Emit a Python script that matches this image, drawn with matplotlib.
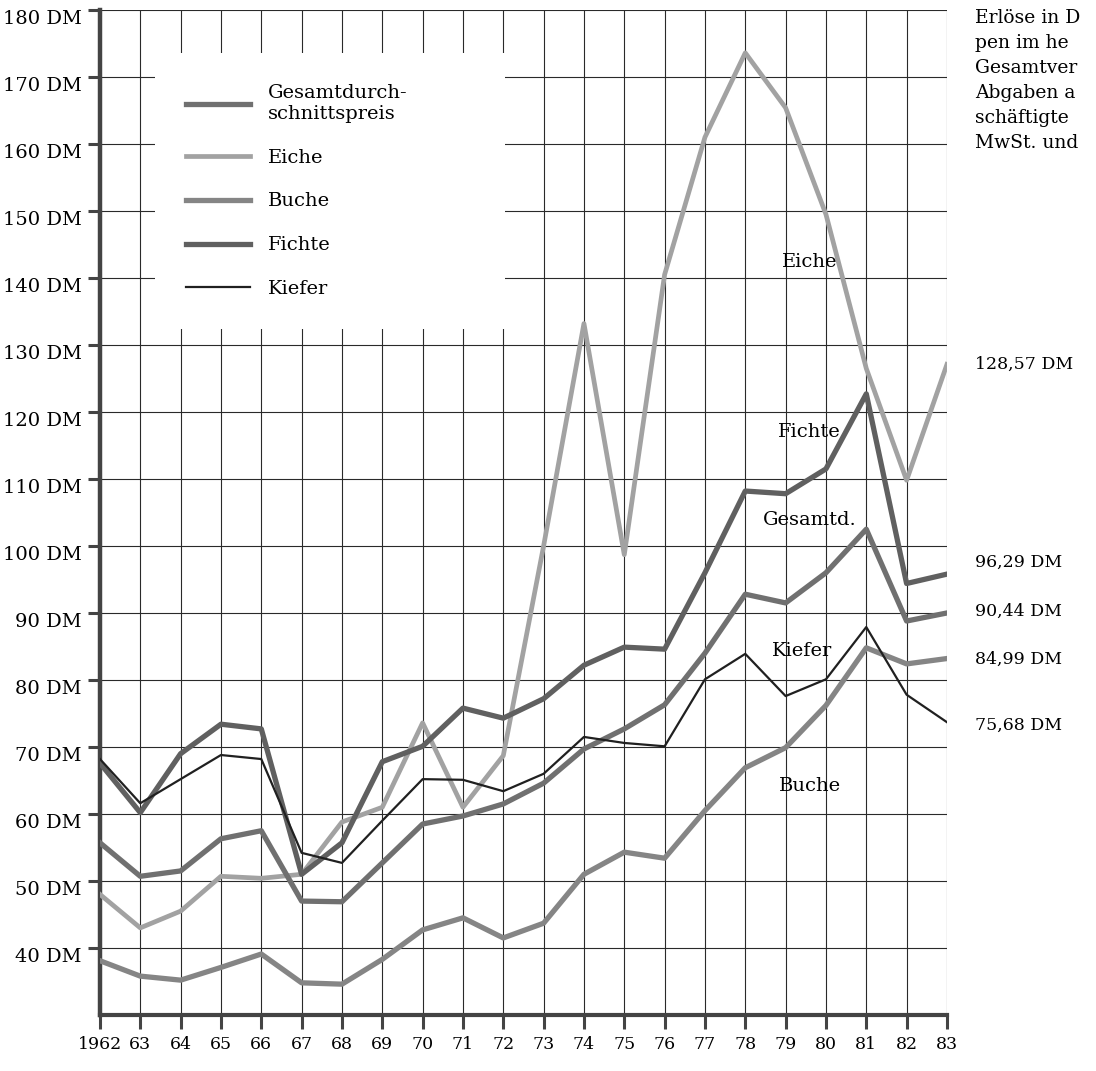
import matplotlib
matplotlib.use("Agg")
import matplotlib.pyplot as plt
import matplotlib.transforms as mtransforms

plt.rcParams["font.family"] = ["DejaVu Serif"]

years = list(range(1962, 1984))
year_labels = ["1962"] + [str(y)[2:] for y in years[1:]]
y_ticks = list(range(40, 190, 10))

gesamt = [55.7, 50.7, 51.5, 56.3, 57.5, 47.0, 46.9, 52.7, 58.5, 59.7, 61.5,
          64.6, 69.7, 72.7, 76.3, 84.0, 92.8, 91.5, 96.0, 102.5, 88.8, 90.0]
eiche = [48.0, 43.0, 45.5, 50.7, 50.4, 51.0, 58.8, 61.0, 73.6, 61.0, 68.7,
         100.0, 133.2, 98.7, 140.5, 161.0, 173.6, 165.4, 149.5, 126.5, 109.8, 127.1]
buche = [38.1, 35.8, 35.2, 37.1, 39.1, 34.8, 34.6, 38.3, 42.7, 44.5, 41.5,
         43.7, 51.0, 54.3, 53.4, 60.5, 66.9, 69.9, 76.2, 84.8, 82.4, 83.2]
fichte = [67.6, 60.2, 69.0, 73.4, 72.7, 51.0, 55.7, 67.8, 70.1, 75.8, 74.3,
          77.2, 82.2, 84.9, 84.6, 96.0, 108.2, 107.8, 111.5, 122.7, 94.4, 95.8]
kiefer = [68.2, 61.6, 65.2, 68.8, 68.2, 54.2, 52.7, 59.0, 65.2, 65.1, 63.4,
          66.0, 71.5, 70.6, 70.1, 80.1, 83.9, 77.6, 80.1, 87.9, 77.8, 73.7]

end_labels = ["128,57 DM", "96,29 DM", "90,44 DM", "84,99 DM", "75,68 DM"]
note_text = "Erlöse in D\npen im he\nGesamtver\nAbgaben a\nschäftigte\nMwSt. und"

fig = plt.figure(figsize=(10.96, 10.71), dpi=100)
ax = fig.add_axes([0.0912, 0.0523, 0.7728, 0.9384])

ax.set_xlim(1962, 1983)
ax.set_ylim(30, 180)

l_ges, = ax.plot(years, gesamt, color="#707070", lw=3.8, zorder=4)
l_eic, = ax.plot(years, eiche, color="#a2a2a2", lw=3.4, zorder=3)
l_buc, = ax.plot(years, buche, color="#858585", lw=3.8, zorder=4)
l_fic, = ax.plot(years, fichte, color="#606060", lw=3.8, zorder=4)
l_kie, = ax.plot(years, kiefer, color="#202020", lw=1.6, zorder=5)

ax.set_xticks(years)
ax.set_xticklabels(year_labels, fontsize=12.5)
ax.set_yticks(y_ticks)
ax.set_yticklabels([f"{v} DM" for v in y_ticks], fontsize=14)
ax.grid(True, color="#2a2a2a", lw=0.8, zorder=1)
ax.set_axisbelow(True)

ax.tick_params(axis="x", length=10, width=2.2, color="#444444", pad=5)
ax.tick_params(axis="y", length=9, width=2.2, color="#444444", pad=4)
# labels sit a little below their ticks in the original
shift = mtransforms.ScaledTranslation(0, -7 / 100, fig.dpi_scale_trans)
for lab in ax.get_yticklabels():
    lab.set_transform(lab.get_transform() + shift)

for s in ["top", "right"]:
    ax.spines[s].set_visible(False)
ax.spines["left"].set_linewidth(3.2)
ax.spines["left"].set_color("#444444")
ax.spines["bottom"].set_linewidth(3.0)
ax.spines["bottom"].set_color("#444444")

leg = ax.legend([l_ges, l_eic, l_buc, l_fic, l_kie],
                ["Gesamtdurch-\nschnittspreis", "Eiche", "Buche", "Fichte", "Kiefer"],
                loc="upper left", bbox_to_anchor=(1963.36, 132.2, 8.68, 41.4),
                bbox_transform=ax.transData, mode="expand",
                fontsize=14, frameon=True, fancybox=False, framealpha=1,
                borderpad=1.6, handlelength=3.3, handletextpad=0.9,
                labelspacing=1.33, borderaxespad=0)
leg.get_frame().set_facecolor("white")
leg.get_frame().set_edgecolor("none")
leg.set_zorder(6)

ax.text(1979.6, 142.4, "Eiche", ha="center", va="center", fontsize=14, zorder=7)
ax.text(1979.6, 117.0, "Fichte", ha="center", va="center", fontsize=14, zorder=7)
ax.text(1979.6, 103.9, "Gesamtd.", ha="center", va="center", fontsize=14, zorder=7)
ax.text(1979.4, 84.3, "Kiefer", ha="center", va="center", fontsize=14, zorder=7)
ax.text(1979.6, 64.2, "Buche", ha="center", va="center", fontsize=14, zorder=7)

ends = [eiche[-1], fichte[-1] + 1.7, gesamt[-1] + 0.3, buche[-1] - 0.1, kiefer[-1] - 0.4]
for lab, v in zip(end_labels, ends):
    ax.text(1983.7, v, lab, ha="left", va="center", fontsize=12.5, clip_on=False)

fig.text(975 / 1096, 1 - 9 / 1071, note_text, ha="left", va="top",
         fontsize=13.5, linespacing=1.5)

fig.savefig("out.png", dpi=100)
